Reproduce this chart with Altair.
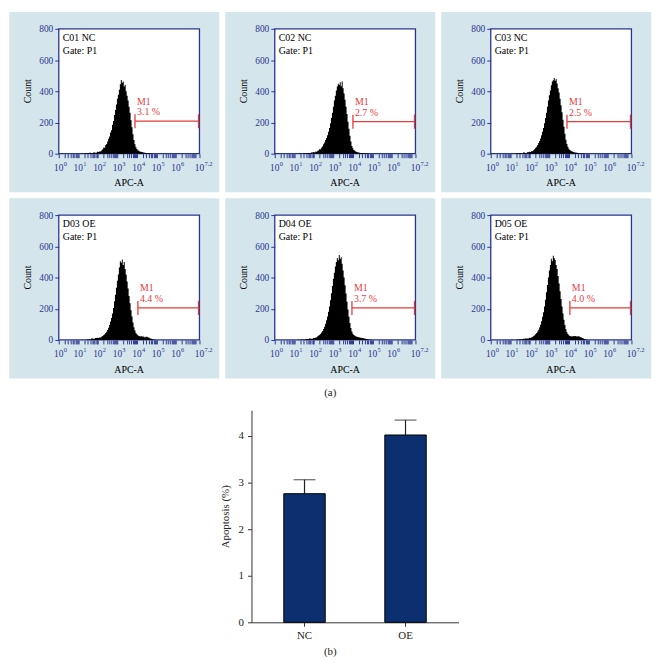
import altair as alt
import pandas as pd

FONT = "Liberation Serif"
NAVY = "#2a3590"
PANEL_BG = "#d5e5ec"
RED = "#e63b3b"
BAR_FILL = "#0c2f70"

# ---- histogram data (x = log10 APC-A, y = count) ----
log_apc = [1.0, 1.1, 1.2, 1.3, 1.4, 1.5, 1.6, 1.7, 1.8, 1.9,
           2.0, 2.05, 2.1, 2.15, 2.2, 2.25, 2.3, 2.35, 2.4, 2.45,
           2.5, 2.55, 2.6, 2.65, 2.7, 2.75, 2.8, 2.85, 2.9, 2.95,
           3.0, 3.05, 3.1, 3.15, 3.2, 3.25, 3.3, 3.35, 3.4, 3.45,
           3.5, 3.55, 3.6, 3.65, 3.7, 3.75, 3.8, 3.85, 3.9, 3.95,
           4.0, 4.05, 4.1, 4.15, 4.2, 4.25, 4.3, 4.35, 4.4,
           4.5, 4.6, 4.7, 4.8, 4.9, 5.0, 5.1]

counts_c01 = [0, 0, 2, 0, 4, 3, 6, 4, 8, 6,
              12, 10, 16, 14, 22, 28, 40, 38, 55, 62,
              78, 95, 110, 135, 150, 185, 210, 248, 280, 315,
              352, 378, 410, 445, 472, 455, 462, 430, 440, 400,
              372, 340, 300, 262, 215, 170, 125, 88, 60, 42,
              30, 22, 18, 14, 12, 10, 9, 8, 6,
              5, 4, 2, 1, 0, 0, 0]
counts_c02 = [0, 0, 0, 2, 0, 3, 2, 5, 4, 8,
              10, 8, 14, 12, 18, 22, 30, 28, 40, 48,
              60, 72, 88, 100, 118, 140, 165, 195, 228, 262,
              300, 340, 372, 405, 430, 448, 440, 458, 432, 462,
              420, 385, 345, 300, 255, 205, 160, 115, 78, 50,
              34, 24, 18, 14, 11, 9, 8, 6, 5,
              4, 3, 2, 1, 0, 0, 0]
counts_c03 = [0, 1, 0, 3, 2, 4, 3, 7, 5, 9,
              12, 11, 17, 15, 24, 30, 38, 45, 56, 68,
              82, 98, 118, 140, 165, 195, 228, 262, 300, 340,
              375, 405, 438, 462, 470, 485, 468, 478, 450, 420,
              392, 352, 310, 265, 218, 172, 128, 90, 62, 44,
              32, 24, 19, 15, 12, 10, 8, 7, 6,
              5, 3, 2, 1, 0, 0, 0]
counts_d03 = [0, 0, 1, 0, 2, 3, 4, 10, 8, 12,
              14, 12, 18, 16, 22, 26, 32, 36, 44, 52,
              64, 78, 96, 118, 140, 170, 205, 248, 290, 335,
              380, 420, 465, 505, 495, 515, 480, 500, 455, 420,
              375, 330, 282, 235, 190, 150, 112, 82, 60, 45,
              36, 30, 26, 24, 22, 25, 20, 22, 18,
              20, 15, 10, 5, 2, 0, 0]
counts_d04 = [0, 0, 2, 1, 3, 2, 5, 6, 9, 8,
              13, 12, 16, 18, 24, 28, 34, 40, 48, 58,
              70, 85, 104, 126, 150, 180, 215, 255, 300, 345,
              392, 430, 470, 500, 525, 510, 545, 520, 530, 488,
              445, 400, 350, 298, 245, 195, 148, 108, 76, 54,
              40, 32, 27, 24, 21, 19, 17, 15, 14,
              12, 9, 6, 3, 1, 0, 0]
counts_d05 = [0, 1, 0, 2, 3, 5, 4, 8, 10, 9,
              14, 12, 18, 20, 26, 30, 38, 44, 54, 66,
              80, 98, 120, 148, 178, 215, 258, 305, 352, 400,
              445, 480, 520, 505, 540, 525, 512, 480, 455, 410,
              362, 312, 262, 215, 170, 130, 95, 68, 50, 38,
              30, 26, 24, 22, 24, 26, 23, 25, 22,
              24, 18, 12, 6, 2, 0, 0]
hist_counts = [counts_c01, counts_c02, counts_c03, counts_d03, counts_d04, counts_d05]

sample_names = ["C01 NC", "C02 NC", "C03 NC", "D03 OE", "D04 OE", "D05 OE"]
gate_texts = ["3.1 %", "2.7 %", "2.5 %", "4.4 %", "3.7 %", "4.0 %"]
gate_start = [3.9, 4.0, 3.9, 4.05, 3.95, 4.05]
gate_level = [208, 205, 205, 205, 205, 205]
gate_end = 7.15

label_ticks = [0, 1, 2, 3, 4, 5, 6, 7.2]
label_exponents = ["0", "1", "2", "3", "4", "5", "6", "7.2"]
major_ticks = [0, 1, 2, 3, 4, 5, 6, 7, 7.2]
minor_offsets = [0.301, 0.477, 0.602, 0.699, 0.778, 0.845, 0.903, 0.954]
count_ticks = [0, 200, 400, 600, 800]

# ---- bar chart data ----
groups = ["NC", "OE"]
apoptosis_mean = [2.76, 4.02]
apoptosis_sd = [0.30, 0.32]

# ---- layout sizes ----
PW, PH = 142, 126          # plot area of a histogram panel
PL, PR, PT, PB = 50, 20, 17, 39   # panel background margins

all_x_ticks = major_ticks + [d + m for d in range(7) for m in minor_offsets]


def histogram_panel(i):
    one = pd.DataFrame({"k": [0]})
    x_scale = alt.Scale(domain=[0, 7.2], nice=False, zero=False)
    y_scale = alt.Scale(domain=[0, 800], nice=False)
    x_axis = alt.Axis(values=all_x_ticks, labels=False, domain=False, grid=False,
                      tickSize=4, tickColor=NAVY, tickWidth=1,
                      title="", zindex=1)
    y_axis = alt.Axis(values=count_ticks, domain=False, grid=False,
                      tickSize=4, tickColor=NAVY, tickWidth=1,
                      labelColor=NAVY, labelFont=FONT, labelFontSize=9.5,
                      labelPadding=2, title="", zindex=1)

    def xe(f):
        return alt.X(f, type="quantitative", scale=x_scale, axis=x_axis)

    def ye(f):
        return alt.Y(f, type="quantitative", scale=y_scale, axis=y_axis)

    bg = alt.Chart(one).mark_rect(fill=PANEL_BG).encode(
        x=alt.value(-PL), x2=alt.value(PW + PR),
        y=alt.value(-PT), y2=alt.value(PH + PB))
    box = alt.Chart(one).mark_rect(fill="white", stroke=NAVY, strokeWidth=1.3).encode(
        x=alt.value(0), x2=alt.value(PW), y=alt.value(0), y2=alt.value(PH))

    hist_df = pd.DataFrame({"apc": log_apc, "count": hist_counts[i]})
    hist = alt.Chart(hist_df).mark_area(color="black", interpolate="step").encode(
        x=xe("apc"), y=ye("count"))

    gate_df = pd.DataFrame({"apc": [gate_start[i]], "apc2": [gate_end],
                            "count": [gate_level[i]]})
    gate_line = alt.Chart(gate_df).mark_rule(color=RED, strokeWidth=1.3).encode(
        x=xe("apc"), x2="apc2:Q", y=ye("count"))
    ends_df = pd.DataFrame({"apc": [gate_start[i], gate_end],
                            "count": [gate_level[i] - 45] * 2,
                            "count2": [gate_level[i] + 45] * 2})
    gate_ends = alt.Chart(ends_df).mark_rule(color=RED, strokeWidth=1.3).encode(
        x=xe("apc"), y=ye("count"), y2="count2:Q")
    lab_df = pd.DataFrame({"apc": [gate_start[i]] * 2,
                           "count": [gate_level[i] + 125, gate_level[i] + 58],
                           "label": ["M1", gate_texts[i]]})
    gate_labels = alt.Chart(lab_df).mark_text(
        align="left", baseline="middle", dx=2, color=RED, font=FONT, fontSize=10
    ).encode(x=xe("apc"), y=ye("count"), text="label:N")

    name = alt.Chart(one).mark_text(
        align="left", baseline="middle", font=FONT, fontSize=10, color="black"
    ).encode(x=alt.value(4), y=alt.value(9), text=alt.value(sample_names[i]))
    gate_name = alt.Chart(one).mark_text(
        align="left", baseline="middle", font=FONT, fontSize=10, color="black"
    ).encode(x=alt.value(4), y=alt.value(22), text=alt.value("Gate: P1"))

    x_title = alt.Chart(one).mark_text(
        align="center", baseline="middle", font=FONT, fontSize=10, color="black"
    ).encode(x=alt.value(PW / 2), y=alt.value(PH + 30), text=alt.value("APC-A"))
    y_title = alt.Chart(one).mark_text(
        align="center", baseline="middle", font=FONT, fontSize=10, color="black",
        angle=270
    ).encode(x=alt.value(-31), y=alt.value(PH / 2), text=alt.value("Count"))

    tick_df = pd.DataFrame({"apc": label_ticks, "base": ["10"] * len(label_ticks),
                            "exp": label_exponents})
    tick_base = alt.Chart(tick_df).mark_text(
        align="center", baseline="middle", font=FONT, fontSize=9.5, color=NAVY
    ).encode(x=xe("apc"), y=alt.value(PH + 14), text="base:N")
    tick_exp = alt.Chart(tick_df).mark_text(
        align="left", baseline="middle", font=FONT, fontSize=6.5, color=NAVY,
        dx=5, dy=-4
    ).encode(x=xe("apc"), y=alt.value(PH + 14), text="exp:N")

    return alt.layer(bg, box, hist, gate_line, gate_ends, gate_labels,
                     name, gate_name, x_title, y_title, tick_base, tick_exp).properties(
        width=PW, height=PH)


row1 = alt.hconcat(*[histogram_panel(i) for i in range(3)], spacing=4)
row2 = alt.hconcat(*[histogram_panel(i) for i in range(3, 6)], spacing=4)
top_block = alt.vconcat(
    row1, row2, spacing=4,
    title=alt.Title("(a)", orient="bottom", anchor="middle", font=FONT,
                    fontSize=11, fontWeight="normal", color="#222", offset=8))

bar_df = pd.DataFrame({
    "group": groups,
    "mean": apoptosis_mean,
    "upper": [m + s for m, s in zip(apoptosis_mean, apoptosis_sd)],
})
AX = "#333333"
bx = alt.X("group:N", sort=groups,
           scale=alt.Scale(paddingInner=0.59, paddingOuter=0.32),
           axis=alt.Axis(title=None, labelAngle=0, labelFont=FONT, labelFontSize=11,
                         labelColor="#222", domainColor=AX, tickColor=AX,
                         tickSize=4, labelPadding=3))
y_bar_scale = alt.Scale(domain=[0, 4.55], nice=False)
y_bar_axis = alt.Axis(values=[0, 1, 2, 3, 4], title="Apoptosis (%)", grid=False,
                      labelFont=FONT, labelFontSize=11, labelColor="#222",
                      domainColor=AX, tickColor=AX, tickSize=4, labelPadding=4,
                      titleFont=FONT, titleFontSize=11, titleFontWeight="normal",
                      titleColor="#222", titlePadding=8)


def by(f):
    return alt.Y(f, type="quantitative", scale=y_bar_scale, axis=y_bar_axis)


bars = alt.Chart(bar_df).mark_bar(color=BAR_FILL, stroke="black", strokeWidth=1).encode(
    x=bx, y=by("mean"))
err = alt.Chart(bar_df).mark_rule(color="#222", strokeWidth=1.2).encode(
    x=bx, y=by("mean"), y2="upper:Q")
cap = alt.Chart(bar_df).mark_tick(color="#222", thickness=1.2, size=22).encode(
    x=bx, y=by("upper"))
bar_chart = alt.layer(err, bars, cap).properties(width=209, height=214)

chart = alt.vconcat(
    top_block, bar_chart, spacing=11, center=True,
    title=alt.Title("(b)", orient="bottom", anchor="middle", font=FONT,
                    fontSize=11, fontWeight="normal", color="#222", offset=5)
).properties(padding=0, background="white").configure_view(stroke="transparent")

chart.save("out.html", embed_options={"renderer": "svg", "actions": False})
